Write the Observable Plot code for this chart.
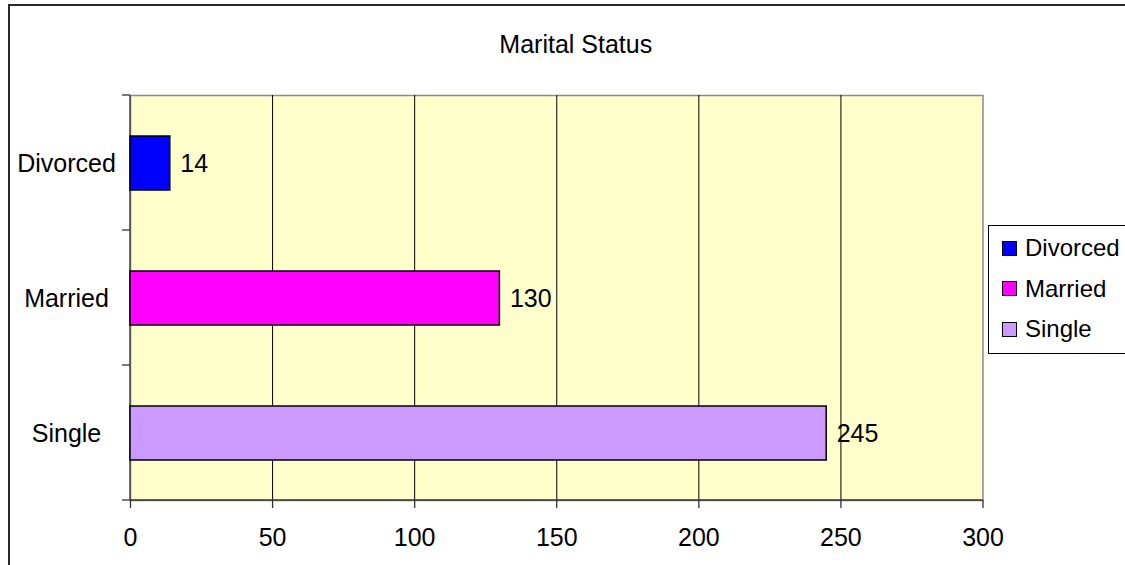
<!DOCTYPE html>
<html>
<head>
<meta charset="utf-8">
<script src="https://cdn.jsdelivr.net/npm/d3@7"></script>
<script src="https://cdn.jsdelivr.net/npm/@observablehq/plot@0.6"></script>
<style>
  html, body { margin: 0; padding: 0; background: #fff; overflow: hidden; }
  #wrap { position: relative; width: 1125px; height: 565px; font-family: "Liberation Sans", Arial, sans-serif; }
  #frame { position: absolute; left: 8px; top: 4px; width: 1130px; height: 600px; border: 2px solid #2a2a2a; box-sizing: border-box; pointer-events: none; }
  #legend { position: absolute; left: 988px; top: 225px; width: 150px; height: 129px; border: 1px solid #000; background: #fff; box-sizing: border-box; }
  .item { position: absolute; left: 13px; height: 30px; display: flex; align-items: center; font-size: 24px; color: #000; }
  .sw { width: 13px; height: 13px; border: 1.5px solid #000; margin-right: 8px; box-sizing: content-box; }
  svg { position: absolute; left: 0; top: 0; }
</style>
</head>
<body>
<div id="wrap">
  <div id="chart"></div>
  <div id="frame"></div>
  <div id="legend"></div>
</div>
<script>
const categories = ["Divorced", "Married", "Single"];
const counts = [14, 130, 245];
const colors = ["#0000FF", "#FF00FF", "#CC99FF"];
const xTicks = [0, 50, 100, 150, 200, 250, 300];
const gridTicks = [50, 100, 150, 200, 250];
const title = "Marital Status";

const data = categories.map((c, i) => ({category: c, count: counts[i]}));

// band boundary ticks + bottom axis line, computed from the plot's own dimensions
function bandTicks(index, scales, values, dims) {
  const g = d3.create("svg:g").attr("stroke", "#333").attr("stroke-width", 1.3);
  const top = dims.marginTop, bottom = dims.height - dims.marginBottom;
  const left = dims.marginLeft, right = dims.width - dims.marginRight;
  const n = categories.length;
  for (let i = 0; i <= n; i++) {
    const y = top + i * (bottom - top) / n;
    g.append("line").attr("x1", left - 8).attr("x2", left).attr("y1", y).attr("y2", y);
  }
  g.append("line").attr("x1", left).attr("x2", right).attr("y1", bottom).attr("y2", bottom);
  g.append("line").attr("x1", left).attr("x2", left).attr("y1", top).attr("y2", bottom);
  return g.node();
}

const chart = Plot.plot({
  width: 1125,
  height: 565,
  marginLeft: 130,
  marginRight: 142.5,
  marginTop: 95,
  marginBottom: 65,
  style: {fontFamily: "'Liberation Sans', Arial, sans-serif", fontSize: "25px", color: "#000", background: "transparent", overflow: "visible"},
  x: {domain: [0, 300], ticks: xTicks},
  y: {domain: categories, paddingInner: 0.6, paddingOuter: 0.3, axis: null},
  color: {domain: categories, range: colors},
  marks: [
    Plot.frame({fill: "#FFFFCC", stroke: "#8a8a8a", strokeWidth: 1.5}),
    Plot.gridX(gridTicks, {stroke: "#000", strokeOpacity: 1, strokeWidth: 1}),
    Plot.axisX(xTicks, {tickSize: 8, tickPadding: 20, stroke: "#333", strokeWidth: 1.3, fontSize: 25, label: null}),
    Plot.axisY(categories, {tickSize: 0, tickPadding: 64, textAnchor: "middle", fontSize: 25, label: null}),
    bandTicks,
    Plot.barX(data, {x: "count", y: "category", fill: "category", stroke: "#000", strokeWidth: 1.5}),
    Plot.text(data, {x: "count", y: "category", text: d => String(d.count), dx: 10, textAnchor: "start", fontSize: 25, fill: "#000"}),
    Plot.text([title], {frameAnchor: "top", dx: 19, dy: -60, fontSize: 25, fill: "#000"})
  ]
});
document.getElementById("chart").appendChild(chart);

const legend = document.getElementById("legend");
categories.forEach((c, i) => {
  const item = document.createElement("div");
  item.className = "item";
  item.style.top = (7 + i * 40.5) + "px";
  const sw = document.createElement("span");
  sw.className = "sw";
  sw.style.background = colors[i];
  const t = document.createElement("span");
  t.textContent = c;
  item.appendChild(sw);
  item.appendChild(t);
  legend.appendChild(item);
});
</script>
</body>
</html>
